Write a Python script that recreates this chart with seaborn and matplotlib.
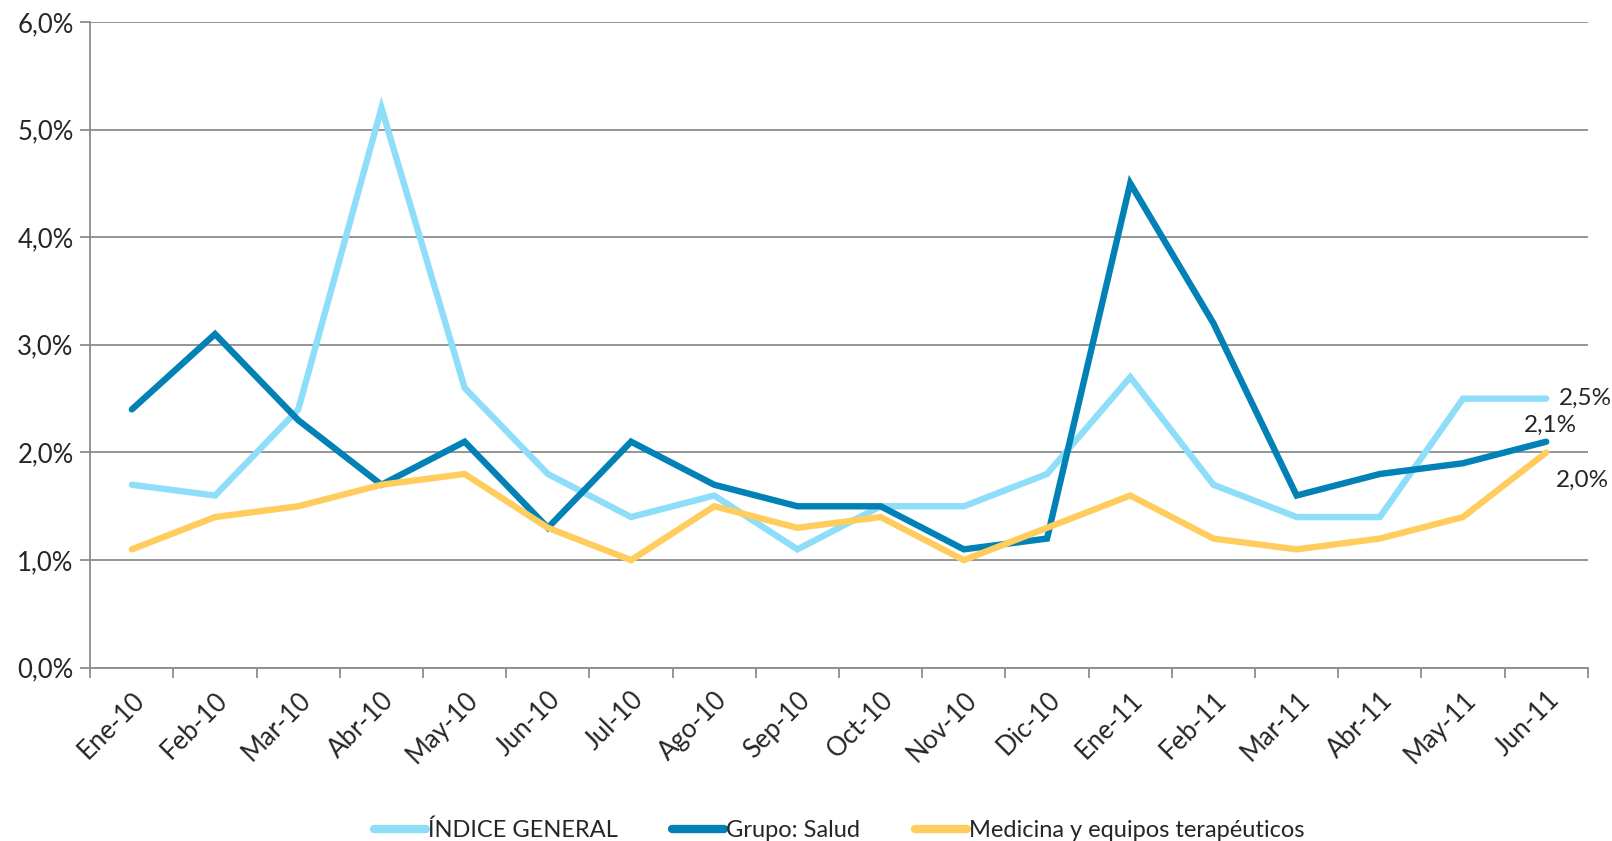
import pandas as pd
import seaborn as sns
import matplotlib.pyplot as plt
from matplotlib.ticker import FuncFormatter, FixedLocator

months = ['Ene-10', 'Feb-10', 'Mar-10', 'Abr-10', 'May-10', 'Jun-10', 'Jul-10', 'Ago-10', 'Sep-10',
          'Oct-10', 'Nov-10', 'Dic-10', 'Ene-11', 'Feb-11', 'Mar-11', 'Abr-11', 'May-11', 'Jun-11']
indice_general = [1.7, 1.6, 2.4, 5.2, 2.6, 1.8, 1.4, 1.6, 1.1, 1.5, 1.5, 1.8, 2.7, 1.7, 1.4, 1.4, 2.5, 2.5]
grupo_salud = [2.4, 3.1, 2.3, 1.7, 2.1, 1.3, 2.1, 1.7, 1.5, 1.5, 1.1, 1.2, 4.5, 3.2, 1.6, 1.8, 1.9, 2.1]
medicina = [1.1, 1.4, 1.5, 1.7, 1.8, 1.3, 1.0, 1.5, 1.3, 1.4, 1.0, 1.3, 1.6, 1.2, 1.1, 1.2, 1.4, 2.0]
series = ['ÍNDICE GENERAL', 'Grupo: Salud', 'Medicina y equipos terapéuticos']
colors = ['#8EDDF9', '#0181B5', '#FFCC5E']

df = pd.concat([
    pd.DataFrame({'Mes': range(len(months)), 'Valor': vals, 'Serie': name})
    for name, vals in zip(series, [indice_general, grupo_salud, medicina])
])

sns.set_style('white')
plt.rcParams['font.family'] = ['Lato', 'DejaVu Sans']

fig = plt.figure(figsize=(16.12, 8.41), dpi=100)
ax = fig.add_axes([0.056, 0.206, 0.929, 0.768])

sns.lineplot(data=df, x='Mes', y='Valor', hue='Serie', hue_order=series,
             palette=colors, linewidth=4.6, sort=False, ax=ax, legend=True)
for line in ax.lines:
    line.set_solid_capstyle('round')
    line.set_solid_joinstyle('miter')

ax.set_ylim(0, 6)
ax.set_xlim(-0.5, len(months) - 0.5)
ax.set_yticks([0, 1, 2, 3, 4, 5, 6])
ax.yaxis.set_major_formatter(FuncFormatter(lambda v, p: f'{v:.1f}%'.replace('.', ',')))
ax.yaxis.grid(True, color='#8C8C8C', linewidth=1.3)
ax.set_axisbelow(True)

ax.set_xticks(range(len(months)))
ax.set_xticklabels(months, rotation=45, ha='right', rotation_mode='anchor')
ax.xaxis.set_minor_locator(FixedLocator([i - 0.5 for i in range(len(months) + 1)]))
ax.tick_params(axis='x', which='major', length=0, pad=14, labelsize=18.5)
ax.tick_params(axis='x', which='minor', length=7, width=1.3, color='#8C8C8C', bottom=True)
ax.tick_params(axis='y', length=7, width=1.3, color='#8C8C8C', left=True, labelsize=18.5, pad=5)

for side in ['top', 'right']:
    ax.spines[side].set_visible(False)
for side in ['left', 'bottom']:
    ax.spines[side].set_color('#8C8C8C')
    ax.spines[side].set_linewidth(1.3)

ax.set_xlabel('')
ax.set_ylabel('')

last = len(months) - 1
ax.annotate('2,5%', (last, indice_general[-1]), xytext=(9, 0), textcoords='offset points',
            va='center', ha='left', fontsize=17.5)
ax.annotate('2,1%', (last, grupo_salud[-1]), xytext=(-16, 12), textcoords='offset points',
            va='center', ha='left', fontsize=17.5)
ax.annotate('2,0%', (last, medicina[-1]), xytext=(7, -20), textcoords='offset points',
            va='center', ha='left', fontsize=17.5)

leg = ax.legend(loc='center', bbox_to_anchor=(0.5, -0.252), ncol=3, frameon=False,
                fontsize=17, handlelength=2.2, handletextpad=0.1, columnspacing=2.3)
for h in leg.get_lines():
    h.set_linewidth(6)
    h.set_solid_capstyle('round')

fig.savefig('out.png', dpi=100, facecolor='white')
